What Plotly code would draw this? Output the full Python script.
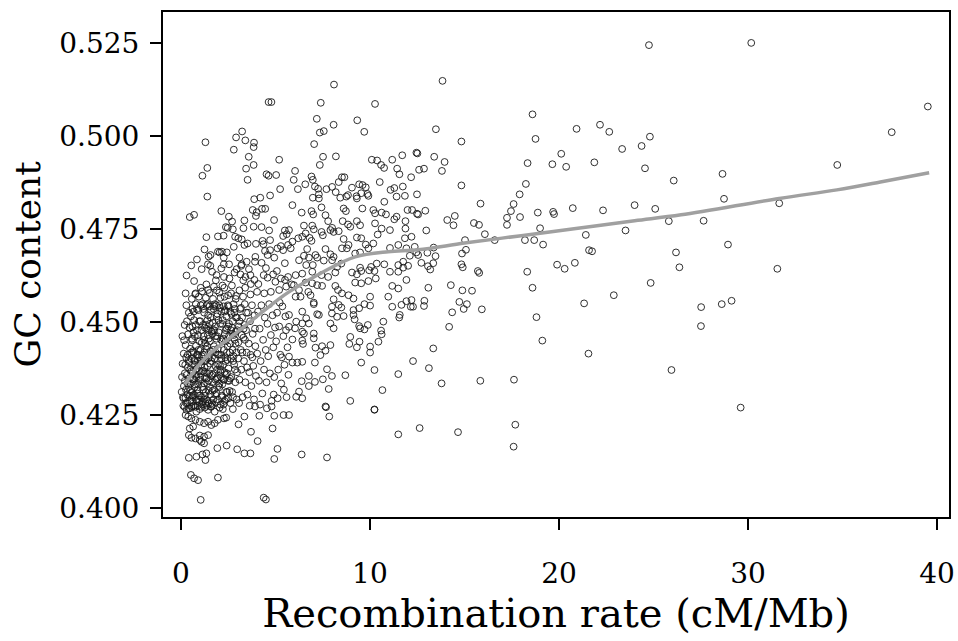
import plotly.graph_objects as go

# ---- sparse points (x > 12) ----
pts_sparse = [
(13.84,0.5148),(13.49,0.5018),(14.84,0.4985),(18.6,0.5058),(18.76,0.4992),(20.93,0.5019),(22.17,0.5030),(22.66,0.5011),
(24.76,0.5244),(24.81,0.4998),(24.37,0.4973),(23.34,0.4965),(24.55,0.4913),(26.07,0.4880),(12.46,0.4955),(12.51,0.4953),
(13.4,0.4944),(13.95,0.4930),(12.6,0.4909),(12.86,0.4912),(13.81,0.4906),(18.34,0.4927),(20.12,0.4952),(19.65,0.4924),
(20.38,0.4917),(21.87,0.4929),(14.84,0.4867),(18.25,0.4871),(17.92,0.4843),(12.49,0.4843),(15.85,0.4818),(17.6,0.4817),
(17.46,0.4798),(17.25,0.4780),(17.25,0.4761),(17.94,0.4782),(18.88,0.4794),(19.69,0.4796),(19.74,0.4790),(20.73,0.4806),
(22.33,0.4800),(24.0,0.4814),(25.09,0.4804),(25.81,0.4771),(12.93,0.4799),(12.49,0.4791),(12.55,0.4789),(14.09,0.4774),
(14.49,0.4785),(14.42,0.4760),(15.5,0.4766),(15.77,0.4761),(16.08,0.4736),(12.98,0.4746),(15.03,0.4720),(16.6,0.4720),
(18.2,0.4720),(18.69,0.4720),(19.0,0.4752),(19.16,0.4708),(21.42,0.4734),(23.52,0.4746),(21.59,0.4693),(21.75,0.4690),
(26.19,0.4687),(13.37,0.4700),(13.04,0.4686),(12.55,0.4680),(13.47,0.4677),(15.08,0.4694),(14.87,0.4684),
(12.72,0.4659),(13.07,0.4650),(13.19,0.4641),(13.35,0.4658),(14.84,0.4655),(14.91,0.4647),(15.71,0.4637),(15.78,0.4632),
(18.32,0.4635),(19.9,0.4654),(20.3,0.4643),(20.84,0.4659),(26.37,0.4647),(13.09,0.4592),(14.28,0.4599),(14.89,0.4585),
(15.4,0.4584),(18.6,0.4592),(24.85,0.4605),(22.9,0.4572),(21.33,0.4550),(12.88,0.4557),(12.86,0.4543),(12.28,0.4541),
(14.73,0.4554),(15.13,0.4548),(14.96,0.4535),(14.35,0.4526),(15.92,0.4534),(14.19,0.4487),(18.81,0.4513),(19.12,0.4450),
(21.56,0.4415),(25.95,0.4371),(13.35,0.4429),(12.28,0.4395),(13.12,0.4376),(13.79,0.4335),(15.84,0.4342),(17.62,0.4345),
(12.63,0.4215),(14.66,0.4204),(17.69,0.4224),(17.6,0.4165),
(30.17,0.5250),(39.51,0.5079),(37.6,0.5010),(34.72,0.4922),(28.65,0.4898),(28.73,0.4831),(31.65,0.4819),(27.65,0.4772),
(28.94,0.4708),(31.55,0.4643),(27.52,0.4540),(28.61,0.4548),(29.13,0.4557),(27.51,0.4489),(29.61,0.4270),
]

# ---- medium density points (x 6 - 12.5) ----
pts_mid = [
(7.40,0.5089),(10.27,0.5086),(7.19,0.5046),(8.08,0.5030),(9.33,0.5042),(9.70,0.5011),(7.35,0.5009),(7.56,0.5013),
(7.05,0.4978),(7.52,0.4944),(7.35,0.4922),(8.2,0.4945),(10.1,0.4936),(10.38,0.4934),(10.59,0.4922),(10.75,0.4914),
(11.18,0.4936),(11.71,0.4948),(11.44,0.4912),(11.56,0.4897),(12.18,0.4889),(11.74,0.4864),(6.04,0.4906),(5.97,0.4882),
(6.19,0.4857),(6.58,0.4870),(6.91,0.4891),(6.98,0.4882),(7.09,0.4864),(7.26,0.4858),(7.30,0.4843),(7.7,0.4857),
(8.0,0.4863),(8.19,0.4849),(8.35,0.4876),(8.52,0.4889),(8.65,0.4889),(9.05,0.4861),(9.43,0.4870),(9.61,0.4868),
(9.78,0.4862),(9.87,0.4844),(10.52,0.4876),(11.09,0.4855),(11.29,0.4860),(8.84,0.4841),(9.29,0.4838),(9.54,0.4846),
(8.1,0.5138),
(5.90,0.4814),(6.39,0.4794),(6.91,0.4798),(7.0,0.4789),(7.44,0.4808),(6.98,0.4834),(7.30,0.4832),(8.43,0.4834),
(8.75,0.4837),(9.31,0.4832),(9.92,0.4839),(10.76,0.4823),(11.41,0.4837),(11.85,0.4839),(8.61,0.4805),(8.73,0.4798),
(9.6,0.4805),(10.18,0.4801),(10.27,0.4792),(10.62,0.4794),(10.85,0.4789),(11.29,0.4776),(11.41,0.4783),(11.88,0.4771),
(11.99,0.4801),(12.23,0.4801),(7.65,0.4787),(7.79,0.4771),(8.0,0.4753),(8.56,0.4771),(8.84,0.4762),(8.96,0.4756),
(9.31,0.4771),(9.48,0.4760),(10.27,0.4765),(10.62,0.4751),(11.06,0.4747),(11.88,0.4751),(11.85,0.4725),(12.2,0.4729),
(5.72,0.4747),(6.51,0.4759),(6.95,0.4759),(7.03,0.4749),(7.44,0.4742),(7.51,0.4733),(7.91,0.4747),(8.08,0.4742),
(8.35,0.4744),(5.9,0.4716),(6.21,0.4725),(6.42,0.4729),(6.6,0.4738),(6.81,0.4726),(6.91,0.4718),(8.61,0.4723),
(8.87,0.4707),(9.31,0.4727),(9.54,0.4725),(9.78,0.4708),(10.18,0.4711),(10.41,0.4735),(11.06,0.4699),(11.5,0.4707),
(11.93,0.4698),(12.37,0.4702),(6.68,0.4696),(6.51,0.4678),(6.77,0.4673),(7.12,0.4680),(7.65,0.4696),(7.91,0.4682),
(8.08,0.4675),(8.52,0.4698),(8.78,0.4698),(9.22,0.4684),(9.48,0.4687),(9.92,0.4698),(6.25,0.4666),(6.63,0.4653),
(6.98,0.4653),(7.21,0.4673),(7.56,0.4665),(8.0,0.4666),(8.26,0.4648),(8.49,0.4657),(9.48,0.4646),(10.06,0.4648),
(10.36,0.4657),(10.76,0.4655),(11.5,0.4653),(11.76,0.4662),(12.11,0.4678),(12.46,0.4687),(6.07,0.4626),(6.42,0.4630),
(6.95,0.4635),(7.44,0.4626),(7.79,0.4621),(8.17,0.4633),(9.05,0.4633),(9.31,0.4628),(9.54,0.4637),(9.96,0.4639),
(10.24,0.4637),(11.06,0.4635),(11.5,0.4635),(11.76,0.4646),(12.02,0.4651),(5.98,0.4599),(6.25,0.4586),(6.6,0.4606),
(6.95,0.4604),(7.21,0.4599),(7.47,0.4597),(6.74,0.4581),(6.86,0.4572),(8.17,0.4597),(8.31,0.4586),(8.52,0.4577),
(9.22,0.4606),(9.54,0.4604),(9.92,0.4610),(10.31,0.4617),(11.18,0.4597),(11.5,0.4590),(11.93,0.4613),(6.07,0.4568),
(6.33,0.4568),(7.03,0.4552),(8.08,0.4561),(8.87,0.4572),(9.13,0.4563),(10.01,0.4568),(10.97,0.4568),(11.93,0.4556),
(12.2,0.4559),
(7.03,0.4548),(7.99,0.4541),(8.35,0.4546),(8.49,0.4539),(8.61,0.4516),(9.13,0.4532),(9.43,0.4537),(9.71,0.4548),
(10.01,0.4544),(9.13,0.4519),(11.18,0.4541),(11.67,0.4546),(12.16,0.4541),(11.58,0.4519),(11.55,0.4512),(6.42,0.4528),
(6.63,0.4510),(7.21,0.4521),(7.30,0.4519),(7.99,0.4523),(8.26,0.4514),(6.1,0.4501),(6.42,0.4496),(5.72,0.4519),
(5.72,0.4487),(6.04,0.4483),(6.42,0.4474),(6.51,0.4469),(6.77,0.4496),(7.03,0.4469),(7.03,0.4456),(7.91,0.4496),
(8.08,0.4483),(9.19,0.4507),(9.48,0.4483),(9.43,0.4489),(9.71,0.4480),(9.89,0.4492),(10.71,0.4501),(10.59,0.4477),
(10.62,0.4467),(10.45,0.4447),(8.96,0.4460),(8.91,0.4441),(9.45,0.4447),(9.31,0.4432),(10.01,0.4434),(10.01,0.4418),
(5.9,0.4453),(6.42,0.4450),(6.46,0.4441),(7.12,0.4431),(7.47,0.4435),(7.65,0.4423),(7.91,0.4438),(7.38,0.4411),
(5.72,0.4407),(5.9,0.4391),(6.16,0.4391),(6.42,0.4393),(7.09,0.4391),(9.54,0.4391),(10.24,0.4371),(8.7,0.4357),
(11.5,0.4360),(7.73,0.4373),(7.99,0.4355),(7.51,0.4346),(7.09,0.4339),(6.77,0.4355),(6.39,0.4341),(6.77,0.4328),
(7.82,0.4320),(6.1,0.4299),(6.42,0.4295),(6.25,0.4313),(10.66,0.4317),(8.96,0.4288),(7.68,0.4271),(10.24,0.4265),
(5.72,0.4250),(7.65,0.4273),(7.85,0.4246),(10.24,0.4264),(11.5,0.4198),(6.39,0.4144),(7.73,0.4136),
]

# ---- low-rate points, upper and lower edges (x < 6) ----
pts_edge = [
(4.64,0.5091),(4.79,0.5091),(3.24,0.5012),(2.92,0.4996),(3.41,0.4988),(3.87,0.4982),(3.85,0.4970),(2.8,0.4963),
(1.30,0.4983),(3.59,0.4944),(5.2,0.4936),(3.85,0.4922),(3.45,0.4912),(1.40,0.4914),(1.14,0.4893),(3.53,0.4882),
(4.53,0.4897),(4.64,0.4893),(5.04,0.4895),(5.25,0.4857),(1.40,0.4837),(3.88,0.4830),(4.2,0.4834),(4.72,0.4840),
(0.70,0.4788),(0.47,0.4782),(2.14,0.4798),(2.54,0.4783),(2.71,0.4770),(2.38,0.4755),(2.48,0.4753),(2.75,0.4749),
(3.36,0.4773),(3.31,0.4752),(3.80,0.4801),(4.01,0.4795),(4.29,0.4804),(4.46,0.4804),(3.97,0.4785),(4.93,0.4774),
(3.85,0.4756),(4.27,0.4755),(4.67,0.4746),(5.5,0.4746),(5.6,0.4736),(5.41,0.4731),(1.35,0.4728),(1.96,0.4730),
(2.26,0.4732),(2.87,0.4729),(3.04,0.4725),(3.22,0.4722),(3.36,0.4707),(3.53,0.4711),(2.8,0.4702),(3.97,0.4710),
(4.32,0.4718),(4.37,0.4709),(4.72,0.4720),(4.45,0.4691),(4.72,0.4693),(5.29,0.4704),(5.67,0.4707),(1.57,0.4680),
(1.96,0.4689),(2.05,0.4687),(2.17,0.4689),(2.43,0.4687),(1.47,0.4676),(1.43,0.4655),(1.56,0.4651),(2.27,0.4673),
(2.27,0.4655),(2.14,0.4644),(3.10,0.4673),(3.22,0.4655),(3.19,0.4651),(3.48,0.4662),(3.92,0.4662),(4.27,0.4659),
(3.94,0.4675),(4.59,0.4680),(4.94,0.4673),(5.11,0.4698),(5.41,0.4693),(5.81,0.4698),
(1.89,0.4626),(2.28,0.4621),(2.57,0.4617),(2.84,0.4633),(3.15,0.4628),(3.41,0.4621),(3.68,0.4626),(3.89,0.4613),
(4.38,0.4626),(4.59,0.4619),(4.88,0.4628),(5.08,0.4637),(5.29,0.4617),(5.51,0.4613),(5.67,0.4621),(0.7,0.4610),
(0.25,0.4577),(0.79,0.4577),(1.05,0.4592),(1.35,0.4601),(1.44,0.4586),(1.75,0.4595),(2.03,0.4579),(2.31,0.4568),
(2.66,0.4577),(2.92,0.4570),(3.29,0.4568),(3.68,0.4574),(4.03,0.4581),(4.41,0.4577),(4.76,0.4581),(5.2,0.4586),
(5.57,0.4595),(5.86,0.4601),
(0.30,0.4264),(0.47,0.4268),(0.65,0.4273),(0.82,0.4259),(1.0,0.4266),(1.26,0.4270),(1.44,0.4264),(1.61,0.4273),
(1.79,0.4259),(2.05,0.4270),(2.22,0.4266),(2.40,0.4243),(2.28,0.4241),(1.96,0.4237),(1.79,0.4228),(1.61,0.4223),
(1.44,0.4232),(1.23,0.4228),(1.0,0.4232),(0.77,0.4237),(0.56,0.4241),(0.39,0.4246),(0.25,0.4250),(0.65,0.4219),
(0.47,0.4214),(0.42,0.4196),(0.56,0.4189),(0.77,0.4187),(1.0,0.4195),(1.23,0.4192),(1.44,0.4196),(1.09,0.4178),
(1.23,0.4174),(1.0,0.4183),(2.75,0.4266),(3.36,0.4246),(3.05,0.4225),(3.71,0.4205),(4.15,0.4248),(4.06,0.4180),
(4.85,0.4214),(4.94,0.4248),(5.43,0.4250),(3.92,0.4273),(4.80,0.4273),(1.93,0.4161),(2.42,0.4168),(2.98,0.4158),
(3.36,0.4147),(3.68,0.4147),(5.11,0.4159),(4.94,0.4132),(0.42,0.4135),(0.82,0.4138),(1.14,0.4144),(1.35,0.4147),
(1.30,0.4129),(0.53,0.4089),(0.70,0.4080),(0.91,0.4075),(1.96,0.4082),(1.05,0.4022),(4.38,0.4028),(4.50,0.4023),
]

# ---- dense core (x < 6, GC 0.427 - 0.455) ----
pts_core = [
(0.04,0.4312),(0.09,0.4388),(0.13,0.4275),(0.17,0.4451),(0.21,0.4342),(0.24,0.4296),(0.28,0.4405),(0.31,0.4358),
(0.35,0.4282),(0.38,0.4467),(0.41,0.4325),(0.44,0.4392),(0.47,0.4302),(0.49,0.4428),(0.06,0.4352),(0.11,0.4298),
(0.15,0.4415),(0.19,0.4272),(0.23,0.4385),(0.27,0.4318),(0.32,0.4502),(0.36,0.4412),(0.4,0.4268),(0.43,0.4348),
(0.46,0.4485),(0.5,0.4372),(0.08,0.4462),(0.16,0.4328),(0.25,0.4438),(0.33,0.4305),(0.42,0.4525),(0.48,0.4288),
(0.2,0.4492),(0.37,0.4378),(0.29,0.4545),
(0.52,0.4335),(0.55,0.4402),(0.57,0.4286),(0.6,0.4451),(0.62,0.4362),(0.65,0.4298),(0.67,0.4418),(0.7,0.4505),
(0.72,0.4325),(0.75,0.4385),(0.77,0.4272),(0.8,0.4436),(0.82,0.4352),(0.85,0.4478),(0.87,0.4308),(0.9,0.4395),
(0.92,0.4532),(0.95,0.4342),(0.97,0.4285),(0.99,0.4448),(0.53,0.4515),(0.56,0.4368),(0.59,0.4312),(0.61,0.4488),
(0.64,0.4422),(0.66,0.4345),(0.69,0.4276),(0.71,0.4398),(0.74,0.4462),(0.76,0.4332),(0.79,0.4548),(0.81,0.4292),
(0.84,0.4375),(0.86,0.4412),(0.89,0.4318),(0.91,0.4465),(0.94,0.4292),(0.96,0.4405),(0.98,0.4368),(0.58,0.4455),
(0.68,0.4528),(0.78,0.4358),(0.88,0.4275),(0.63,0.4302),(0.93,0.4425),
(1.02,0.4352),(1.04,0.4425),(1.07,0.4298),(1.09,0.4478),(1.12,0.4368),(1.14,0.4285),(1.17,0.4412),(1.19,0.4535),
(1.22,0.4335),(1.24,0.4452),(1.27,0.4302),(1.29,0.4395),(1.32,0.4492),(1.34,0.4348),(1.37,0.4275),(1.39,0.4435),
(1.42,0.4382),(1.44,0.4518),(1.47,0.4315),(1.49,0.4405),(1.03,0.4502),(1.06,0.4385),(1.08,0.4272),(1.11,0.4445),
(1.13,0.4325),(1.16,0.4548),(1.18,0.4368),(1.21,0.4292),(1.23,0.4418),(1.26,0.4485),(1.28,0.4352),(1.31,0.4312),
(1.33,0.4428),(1.36,0.4545),(1.38,0.4362),(1.41,0.4288),(1.43,0.4465),(1.46,0.4342),(1.48,0.4478),(1.1,0.4395),
(1.2,0.4462),(1.3,0.4282),(1.4,0.4505),(1.25,0.4378),(1.45,0.4402),
(1.51,0.4362),(1.53,0.4448),(1.56,0.4305),(1.58,0.4512),(1.61,0.4395),(1.63,0.4282),(1.66,0.4468),(1.68,0.4358),
(1.71,0.4425),(1.73,0.4535),(1.76,0.4318),(1.78,0.4402),(1.81,0.4488),(1.83,0.4345),(1.86,0.4285),(1.88,0.4455),
(1.91,0.4372),(1.93,0.4522),(1.96,0.4412),(1.98,0.4328),(1.52,0.4542),(1.55,0.4388),(1.59,0.4272),(1.62,0.4475),
(1.65,0.4338),(1.69,0.4498),(1.72,0.4292),(1.75,0.4435),(1.79,0.4548),(1.82,0.4382),(1.85,0.4418),(1.89,0.4308),
(1.92,0.4462),(1.95,0.4352),(1.99,0.4505),(1.57,0.4422),(1.67,0.4315),(1.77,0.4478),(1.87,0.4545),(1.97,0.4385),
(2.02,0.4412),(2.05,0.4325),(2.08,0.4495),(2.11,0.4372),(2.14,0.4528),(2.17,0.4298),(2.2,0.4448),(2.23,0.4385),
(2.26,0.4542),(2.29,0.4345),(2.32,0.4468),(2.35,0.4405),(2.38,0.4292),(2.41,0.4515),(2.44,0.4362),(2.47,0.4435),
(2.5,0.4488),(2.03,0.4545),(2.07,0.4382),(2.1,0.4278),(2.13,0.4452),(2.16,0.4402),(2.19,0.4332),(2.22,0.4505),
(2.25,0.4278),(2.28,0.4425),(2.31,0.4365),(2.34,0.4532),(2.37,0.4448),(2.4,0.4312),(2.43,0.4482),(2.46,0.4398),
(2.49,0.4342),(2.12,0.4352),(2.36,0.4395),
(2.52,0.4375),(2.55,0.4462),(2.58,0.4315),(2.61,0.4528),(2.64,0.4402),(2.67,0.4352),(2.7,0.4485),(2.73,0.4425),
(2.76,0.4298),(2.79,0.4548),(2.82,0.4385),(2.85,0.4452),(2.88,0.4338),(2.91,0.4512),(2.94,0.4418),(2.97,0.4365),
(2.53,0.4542),(2.59,0.4418),(2.65,0.4478),(2.71,0.4312),(2.77,0.4395),(2.83,0.4525),(2.89,0.4442),(2.95,0.4292),
(2.62,0.4282),(2.74,0.4502),(2.86,0.4372),(2.98,0.4478),(2.56,0.4342),(2.8,0.4465),
(3.03,0.4402),(3.06,0.4488),(3.1,0.4345),(3.13,0.4535),(3.17,0.4425),(3.2,0.4372),(3.24,0.4512),(3.27,0.4298),
(3.31,0.4458),(3.34,0.4395),(3.38,0.4548),(3.41,0.4338),(3.45,0.4478),(3.48,0.4418),(3.52,0.4305),(3.55,0.4525),
(3.59,0.4442),(3.62,0.4365),(3.66,0.4502),(3.69,0.4412),(3.73,0.4328),(3.76,0.4545),(3.8,0.4468),(3.83,0.4382),
(3.87,0.4292),(3.9,0.4518),(3.94,0.4435),(3.97,0.4355),(3.08,0.4282),(3.22,0.4465),(3.36,0.4492),(3.5,0.4378),
(3.64,0.4275),(3.78,0.4405),(3.92,0.4482),
(4.04,0.4415),(4.08,0.4528),(4.13,0.4342),(4.17,0.4482),(4.22,0.4395),(4.26,0.4545),(4.31,0.4308),(4.35,0.4452),
(4.4,0.4372),(4.44,0.4512),(4.49,0.4425),(4.53,0.4338),(4.58,0.4495),(4.62,0.4408),(4.67,0.4548),(4.71,0.4362),
(4.76,0.4465),(4.8,0.4288),(4.85,0.4518),(4.89,0.4432),(4.94,0.4352),(4.98,0.4485),(4.19,0.4278),(4.55,0.4268),
(4.91,0.4305),
(5.04,0.4448),(5.09,0.4525),(5.15,0.4372),(5.2,0.4488),(5.26,0.4412),(5.31,0.4335),(5.37,0.4542),(5.42,0.4462),
(5.48,0.4385),(5.53,0.4515),(5.59,0.4298),(5.64,0.4432),(5.69,0.4358),(5.12,0.4295),(5.34,0.4405),(5.56,0.4478),
(5.23,0.4552),(5.45,0.4318),
]

# ---- extra points in the darkest part of the core ----
pts_core_extra = [
(0.55,0.4418),(0.61,0.4535),(0.67,0.4472),(0.73,0.4395),(0.79,0.4492),(0.85,0.4535),(0.91,0.4412),(0.97,0.4502),
(1.05,0.4545),(1.11,0.4408),(1.17,0.4492),(1.23,0.4525),(1.29,0.4442),(1.35,0.4482),(1.41,0.4548),(1.47,0.4455),
(1.53,0.4495),(1.59,0.4532),(1.65,0.4405),(1.71,0.4478),(1.77,0.4542),(1.83,0.4462),(1.89,0.4515),(1.95,0.4428),
(2.01,0.4472),(2.07,0.4538),(2.13,0.4412),(2.19,0.4495),(2.25,0.4455),(2.31,0.4528),(2.37,0.4478),(2.43,0.4418),
(2.49,0.4545),(2.55,0.4495),(2.61,0.4442),(2.67,0.4522),(2.73,0.4468),(2.79,0.4408),(2.85,0.4535),(2.91,0.4475),
(2.97,0.4512),(3.04,0.4445),(3.11,0.4502),(3.18,0.4538),(3.25,0.4418),(3.32,0.4482),(3.39,0.4452),(3.46,0.4525),
(0.58,0.4562),(0.76,0.4575),(0.95,0.4568),(1.12,0.4582),(1.32,0.4565),(1.52,0.4578),(1.7,0.4562),(1.9,0.4585),
(2.1,0.4565),(2.3,0.4592),(2.5,0.4572),(2.7,0.4598),(2.9,0.4562),(3.1,0.4585),(3.4,0.4592),(3.7,0.4602),
(0.14,0.4295),(0.21,0.4362),(0.28,0.4282),(0.35,0.4335),(0.42,0.4398),(0.49,0.4315),(0.56,0.4272),(0.63,0.4348),
(0.7,0.4305),(0.77,0.4372),(0.84,0.4288),(0.91,0.4332),(0.98,0.4302),(1.05,0.4345),(1.12,0.4278),(1.19,0.4318),
(1.26,0.4365),(1.33,0.4292),(1.4,0.4335),(1.47,0.4282),(1.54,0.4325),(1.61,0.4355),(1.68,0.4278),(1.75,0.4362),
(1.82,0.4305),(1.89,0.4348),(1.96,0.4292),(2.03,0.4335),(2.1,0.4365),(2.17,0.4302),(2.24,0.4345),(2.31,0.4288),
(2.38,0.4358),(2.45,0.4312),(2.52,0.4295),(2.6,0.4348),
(0.3,0.4625),(0.55,0.4652),(0.85,0.4668),(1.1,0.4642),(1.25,0.4695),(1.65,0.4635),(1.85,0.4612),(2.2,0.4598),
(2.55,0.4655),(2.95,0.4642),(3.3,0.4612),(3.6,0.4642),(4.1,0.4602),(4.5,0.4645),(5.0,0.4608),(5.5,0.4658),
]

# ---- smoothed trend line ----
trend_rate = [0.2, 1.26, 2.66, 3.89, 5.11, 5.72, 7.47, 9.22, 10.97, 12.55, 15.0, 18.0, 21.0, 24.0, 26.46, 31.65, 34.7, 37.0, 39.58]
trend_gc = [0.4332, 0.4402, 0.4460, 0.4510, 0.4559, 0.4581, 0.4633, 0.4675, 0.4689, 0.4694, 0.4712, 0.4732, 0.4752, 0.4772, 0.4788, 0.4832, 0.4855, 0.4876, 0.4901]

x_ticks = [0, 10, 20, 30, 40]
y_ticks = [0.400, 0.425, 0.450, 0.475, 0.500, 0.525]

all_pts = pts_sparse + pts_mid + pts_edge + pts_core + pts_core_extra
rate = [p[0] for p in all_pts]
gc = [p[1] for p in all_pts]

FONT = "DejaVu Serif"

fig = go.Figure()
fig.add_trace(go.Scatter(
    x=rate, y=gc, mode="markers",
    marker=dict(symbol="circle-open", size=6.8, color="#1a1a1a", line=dict(width=0.9, color="#1a1a1a")),
    hoverinfo="skip", showlegend=False,
))
fig.add_trace(go.Scatter(
    x=trend_rate, y=trend_gc, mode="lines", line=dict(color="#a0a0a0", width=3.5, shape="spline"),
    hoverinfo="skip", showlegend=False,
))

axis_common = dict(
    showgrid=False, zeroline=False, showline=True, linecolor="black", linewidth=2, mirror=True,
    ticks="outside", ticklen=11, tickwidth=1.5, tickcolor="black",
    tickfont=dict(family=FONT, size=28, color="black"),
    ticklabeloverflow="allow",
)
fig.update_layout(
    width=958, height=641,
    margin=dict(l=163, r=3, t=12, b=124),
    paper_bgcolor="white", plot_bgcolor="white",
    xaxis=dict(range=[-0.945, 40.63], tickvals=x_ticks, ticktext=[str(v) for v in x_ticks],
               ticklabelstandoff=19,
               title=dict(text="Recombination rate (cM/Mb)", font=dict(family=FONT, size=40, color="black"), standoff=10),
               **axis_common),
    yaxis=dict(range=[0.3976, 0.5333], tickvals=y_ticks, ticktext=[f"{v:.3f}" for v in y_ticks],
               ticklabelstandoff=5,
               title=dict(text="GC content", font=dict(family=FONT, size=36, color="black"), standoff=8),
               **axis_common),
)
fig.write_html("out.html")
